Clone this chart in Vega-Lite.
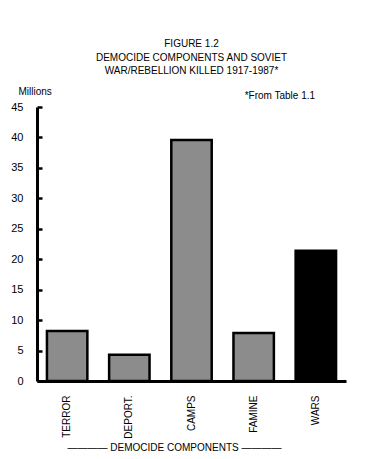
{
  "$schema": "https://vega.github.io/schema/vega-lite/v6.json",
  "autosize": "none",
  "width": 309,
  "height": 274,
  "padding": {"left": 37, "top": 107, "right": 21, "bottom": 78},
  "background": "white",
  "config": {"view": {"stroke": null}, "font": "Liberation Sans", "axisY": {"tickSize": -5, "tickWidth": 2.5, "tickColor": "black", "ticks": true}},
  "title": {
    "text": ["FIGURE 1.2", "DEMOCIDE COMPONENTS AND SOVIET", "WAR/REBELLION KILLED 1917-1987*"],
    "font": "Liberation Sans",
    "fontSize": 10,
    "fontWeight": "normal",
    "color": "black",
    "anchor": "middle",
    "lineHeight": 13.5,
    "offset": 10
  },
  "layer": [
    {
      "data": {
        "values": [
          {"component": "TERROR", "killed": 8.2, "kind": "democide"},
          {"component": "DEPORT.", "killed": 4.3, "kind": "democide"},
          {"component": "CAMPS", "killed": 39.6, "kind": "democide"},
          {"component": "FAMINE", "killed": 7.9, "kind": "democide"},
          {"component": "WARS", "killed": 21.4, "kind": "war"}
        ]
      },
      "mark": {"type": "bar", "stroke": "black", "strokeWidth": 2.5},
      "encoding": {
        "x": {
          "field": "component",
          "type": "nominal",
          "sort": ["TERROR", "DEPORT.", "CAMPS", "FAMINE", "WARS"],
          "scale": {"paddingInner": 0.35, "paddingOuter": 0.16},
          "axis": {
            "title": "————  DEMOCIDE COMPONENTS  ————",
            "titleFont": "Liberation Sans",
            "titleFontSize": 10,
            "titleFontWeight": "normal",
            "titleColor": "black",
            "titleX": 137,
            "titleY": 66,
            "titleBaseline": "middle",
            "labelAngle": -90,
            "labelAlign": "right",
            "labelBaseline": "middle",
            "labelFontSize": 10,
            "labelColor": "black",
            "labelPadding": 14,
            "ticks": false,
            "domainColor": "black",
            "domainWidth": 3
          }
        },
        "y": {
          "field": "killed",
          "type": "quantitative",
          "scale": {"domain": [0, 45]},
          "axis": {
            "values": [0, 5, 10, 15, 20, 25, 30, 35, 40, 45],
            "labelOverlap": false,
            "grid": false,
            "title": "Millions",
            "titleAngle": 0,
            "titleAlign": "left",
            "titleBaseline": "middle",
            "titleX": -19,
            "titleY": -16,
            "titleFont": "Liberation Sans",
            "titleFontSize": 10,
            "titleFontWeight": "normal",
            "titleColor": "black",
            "labelFontSize": 11,
            "labelColor": "black",
            "labelPadding": 19,
            "domainColor": "black",
            "domainWidth": 3
          }
        },
        "fill": {
          "field": "kind",
          "type": "nominal",
          "scale": {"domain": ["democide", "war"], "range": ["#8c8c8c", "black"]},
          "legend": null
        }
      }
    },
    {
      "data": {"values": [{"note": "*From Table 1.1", "component": "FAMINE", "killed": 45}]},
      "mark": {"type": "text", "font": "Liberation Sans", "fontSize": 10, "fontWeight": "normal", "align": "left", "baseline": "middle", "dx": -9, "dy": -11, "fill": "black", "clip": false},
      "encoding": {
        "text": {"field": "note", "type": "nominal"},
        "x": {
          "field": "component",
          "type": "nominal",
          "sort": ["TERROR", "DEPORT.", "CAMPS", "FAMINE", "WARS"],
          "axis": {
            "title": "————  DEMOCIDE COMPONENTS  ————",
            "titleFont": "Liberation Sans",
            "titleFontSize": 10,
            "titleFontWeight": "normal",
            "titleColor": "black",
            "titleX": 137,
            "titleY": 66,
            "titleBaseline": "middle",
            "labelAngle": -90,
            "labelAlign": "right",
            "labelBaseline": "middle",
            "labelFontSize": 10,
            "labelColor": "black",
            "labelPadding": 14,
            "ticks": false,
            "domainColor": "black",
            "domainWidth": 3
          }
        },
        "y": {
          "field": "killed",
          "type": "quantitative",
          "axis": {
            "values": [0, 5, 10, 15, 20, 25, 30, 35, 40, 45],
            "labelOverlap": false,
            "grid": false,
            "title": "Millions",
            "titleAngle": 0,
            "titleAlign": "left",
            "titleBaseline": "middle",
            "titleX": -19,
            "titleY": -16,
            "titleFont": "Liberation Sans",
            "titleFontSize": 10,
            "titleFontWeight": "normal",
            "titleColor": "black",
            "labelFontSize": 11,
            "labelColor": "black",
            "labelPadding": 19,
            "domainColor": "black",
            "domainWidth": 3
          }
        }
      }
    }
  ]
}
